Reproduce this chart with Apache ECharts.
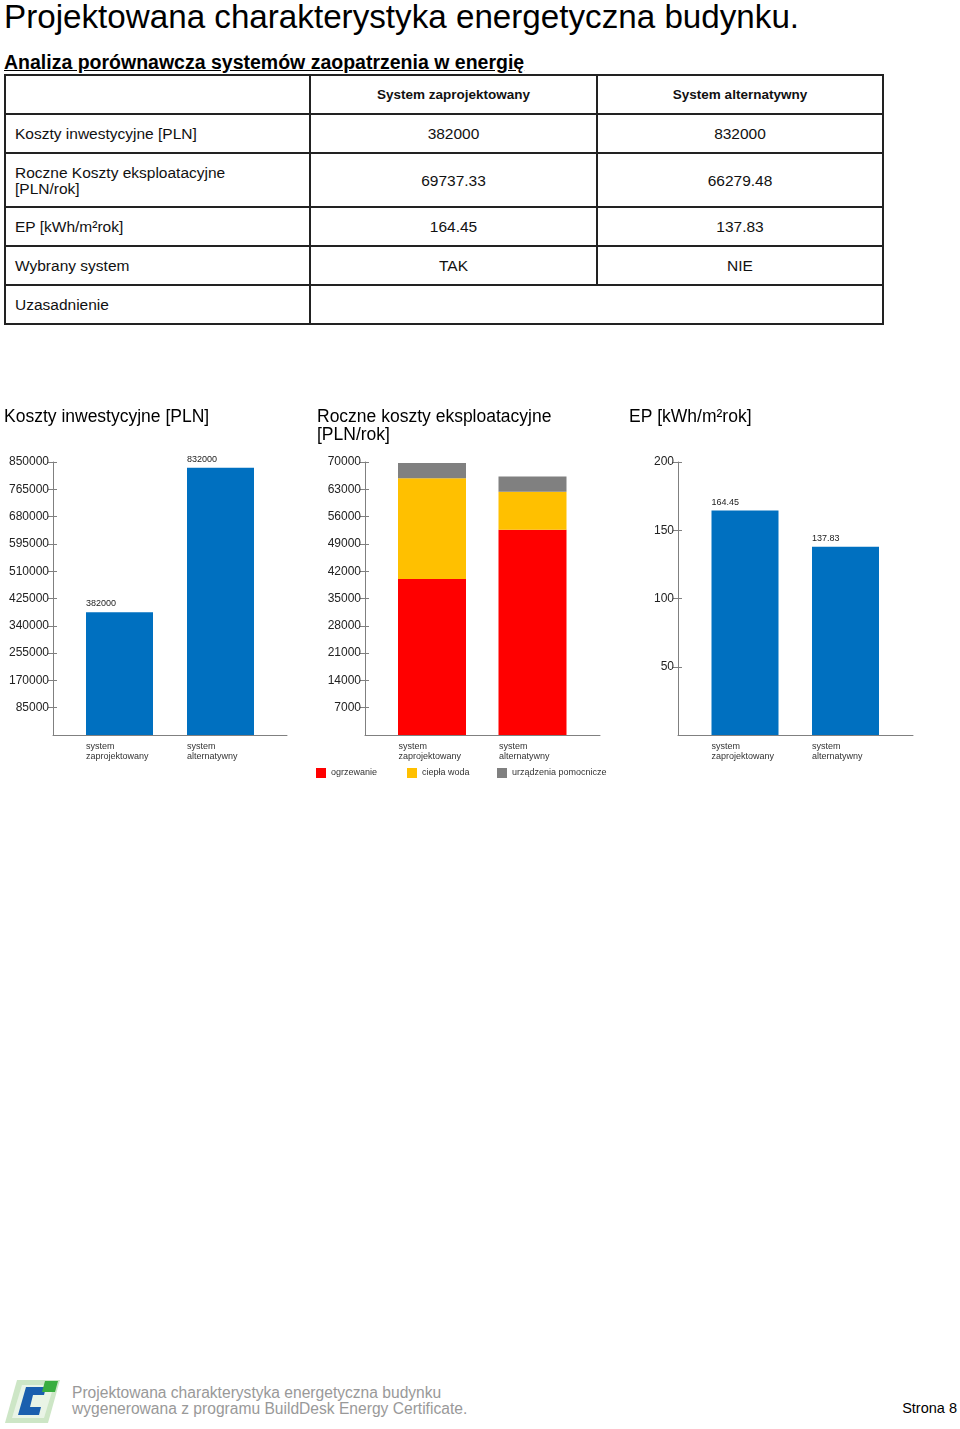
<!DOCTYPE html>
<html>
<head>
<meta charset="utf-8">
<script src="https://cdn.jsdelivr.net/npm/echarts@6/dist/echarts.min.js"></script>
<style>
  html, body { margin:0; padding:0; background:#fff; }
  body { width:960px; height:1429px; position:relative; overflow:hidden; font-family:"Liberation Sans", Arial, sans-serif; color:#000; }
  #title { position:absolute; left:4px; top:0; font-size:33.2px; line-height:33px; white-space:nowrap; }
  #subtitle { position:absolute; left:4px; top:52px; font-size:19.5px; line-height:20px; font-weight:bold; text-decoration:underline; white-space:nowrap; }
  #tbl { position:absolute; left:4px; top:74px; border-collapse:collapse; table-layout:fixed; width:878px; }
  #tbl td { border:2px solid #222; font-size:15.5px; line-height:16px; padding:1px 0 0 9px; color:#111; }
  #tbl td.c { text-align:center; padding:1px 0 0 0; }
  #tbl tr.h td { font-weight:bold; font-size:13.5px; }
  #chart { position:absolute; left:0; top:395px; width:960px; height:400px; }
  #foot { position:absolute; left:72px; top:1385px; font-size:15.6px; line-height:16px; color:#999; white-space:nowrap; }
  #page { position:absolute; right:3px; top:1400px; font-size:14.5px; line-height:16px; color:#000; }
  #logo { position:absolute; left:5px; top:1379px; }
</style>
</head>
<body>
<div id="title">Projektowana charakterystyka energetyczna budynku.</div>
<div id="subtitle">Analiza porównawcza systemów zaopatrzenia w energię</div>
<table id="tbl"></table>
<div id="chart"></div>
<svg id="logo" width="56" height="46" viewBox="0 0 56 46">
  <polygon points="12,1 55,1 43,44 0,44" fill="#cde6c6"/>
  <polygon points="17,6 49,6 39,39 7,39" fill="#e9f4e6"/>
  <polygon points="21,8 41,8 39,16 28,16 25,28 36,28 34,36 13,36" fill="#1b5fae"/>
  <polygon points="40,2 53,2 50,13 37,13" fill="#3aae3f"/>
</svg>
<div id="foot">Projektowana charakterystyka energetyczna budynku<br>wygenerowana z programu BuildDesk Energy Certificate.</div>
<div id="page">Strona 8</div>
<script>
// ---- table data ----
const tableHeader = ['', 'System zaprojektowany', 'System alternatywny'];
const tableRowLabels = ['Koszty inwestycyjne [PLN]', 'Roczne Koszty eksploatacyjne<br>[PLN/rok]', 'EP [kWh/m²rok]', 'Wybrany system', 'Uzasadnienie'];
const tableDesigned = ['382000', '69737.33', '164.45', 'TAK'];
const tableAlternative = ['832000', '66279.48', '137.83', 'NIE'];
const rowHeights = [39, 39, 54, 39, 39, 39];

// ---- chart data ----
const categories = ['system\nzaprojektowany', 'system\nalternatywny'];
const investCost = [382000, 832000];
const heating = [40000, 52640];
const hotWater = [25820, 9745];
const auxiliary = [3917.33, 3894.48];
const epValues = [164.45, 137.83];
const seriesNames = ['ogrzewanie', 'ciepła woda', 'urządzenia pomocnicze'];
const chartTitles = ['Koszty inwestycyjne [PLN]', 'Roczne koszty eksploatacyjne\n[PLN/rok]', 'EP [kWh/m²rok]'];
const axisMax = [850000, 70000, 200];
const axisInterval = [85000, 7000, 50];

// build table
(function(){
  const t = document.getElementById('tbl');
  let html = '<colgroup><col style="width:305px"><col style="width:287px"><col style="width:286px"></colgroup>';
  html += '<tr class="h" style="height:' + rowHeights[0] + 'px"><td></td><td class="c">' + tableHeader[1] + '</td><td class="c">' + tableHeader[2] + '</td></tr>';
  for (let i = 0; i < tableRowLabels.length; i++) {
    html += '<tr style="height:' + rowHeights[i+1] + 'px"><td>' + tableRowLabels[i] + '</td>';
    if (i < tableDesigned.length) {
      html += '<td class="c">' + tableDesigned[i] + '</td><td class="c">' + tableAlternative[i] + '</td>';
    } else {
      html += '<td colspan="2"></td>';
    }
    html += '</tr>';
  }
  t.innerHTML = html;
})();

const FONT = '"Liberation Sans", Arial, sans-serif';
const AXIS_COLOR = '#808080';
const frames = [{left:53, width:234}, {left:365, width:235}, {left:678, width:235}];
const barGrids = [{left:69, width:202}, {left:381.75, width:201}, {left:694.75, width:201}];
const gridTop = 67, gridHeight = 273;

const grids = [], xAxes = [], yAxes = [];
for (let c = 0; c < 3; c++) {
  grids.push({left: frames[c].left, width: frames[c].width, top: gridTop, height: gridHeight});
  grids.push({left: barGrids[c].left, width: barGrids[c].width, top: gridTop, height: gridHeight});
  const gf = c * 2, gb = c * 2 + 1;
  xAxes.push({type:'category', gridIndex: gf, data: categories, axisLine:{show:true, lineStyle:{color:AXIS_COLOR, width:1}}, axisTick:{show:false}, axisLabel:{show:false}});
  xAxes.push({type:'category', gridIndex: gb, data: categories, axisLine:{show:false}, axisTick:{show:false},
    axisLabel:{show:true, interval:0, margin:7, align:'center',
      formatter: v => v.split('\n').map(s => '{a|' + s + '}').join('\n'),
      rich:{a:{width: 67, align:'left', fontSize:9, lineHeight:10, color:'#333', fontFamily: FONT}}}});
  const base = {type:'value', position:'left', min:0, max:axisMax[c], interval:axisInterval[c], splitLine:{show:false}};
  yAxes.push(Object.assign({}, base, {gridIndex: gf, axisLine:{show:true, lineStyle:{color:AXIS_COLOR, width:1}},
    axisTick:{show:true, length:5, lineStyle:{color:AXIS_COLOR}},
    axisLabel:{show:true, margin:4, fontSize:12, color:'#222', fontFamily: FONT, showMinLabel:false, formatter: v => String(v)}}));
  yAxes.push(Object.assign({}, base, {gridIndex: gf, axisLine:{show:false},
    axisTick:{show:true, inside:true, length:4, lineStyle:{color:AXIS_COLOR}}, axisLabel:{show:false}}));
  yAxes.push(Object.assign({}, base, {gridIndex: gb, show:false}));
}
// yAxis indices: chart c -> frame 3c, inner 3c+1, bars 3c+2

const valLabel = {show:true, position:[0,-13], fontSize:9, color:'#222', fontFamily: FONT};
const legendLefts = [316, 407, 497];

const option = {
  animation: false,
  textStyle: {fontFamily: FONT},
  title: [
    {text: chartTitles[0], left: 4, top: 13, padding: 0, textStyle:{fontSize:17.5, fontWeight:'normal', color:'#000', fontFamily: FONT}},
    {text: chartTitles[1], left: 317, top: 13, padding: 0, textStyle:{fontSize:17.5, fontWeight:'normal', color:'#000', lineHeight:18, fontFamily: FONT}},
    {text: chartTitles[2], left: 629, top: 13, padding: 0, textStyle:{fontSize:17.5, fontWeight:'normal', color:'#000', fontFamily: FONT}}
  ],
  legend: seriesNames.map((n, i) => ({
    data: [n], left: legendLefts[i], top: 373, padding: 0, itemWidth: 10, itemHeight: 10, icon: 'rect',
    textStyle: {fontSize: 9, color: '#333', fontFamily: FONT}
  })),
  grid: grids,
  xAxis: xAxes,
  yAxis: yAxes,
  series: [
    {type:'bar', name:'Koszty', xAxisIndex:1, yAxisIndex:2, data: investCost, barWidth:67, itemStyle:{color:'#0070C0'}, label: valLabel},
    {type:'bar', name:seriesNames[0], xAxisIndex:3, yAxisIndex:5, stack:'op', data: heating, barWidth:68, itemStyle:{color:'#FF0000'}},
    {type:'bar', name:seriesNames[1], xAxisIndex:3, yAxisIndex:5, stack:'op', data: hotWater, barWidth:68, itemStyle:{color:'#FFC000'}},
    {type:'bar', name:seriesNames[2], xAxisIndex:3, yAxisIndex:5, stack:'op', data: auxiliary, barWidth:68, itemStyle:{color:'#808080'}},
    {type:'bar', name:'EP', xAxisIndex:5, yAxisIndex:8, data: epValues, barWidth:67, itemStyle:{color:'#0070C0'}, label: valLabel}
  ]
};
const chart = echarts.init(document.getElementById('chart'), null, {renderer:'canvas'});
chart.setOption(option);
</script>
</body>
</html>
